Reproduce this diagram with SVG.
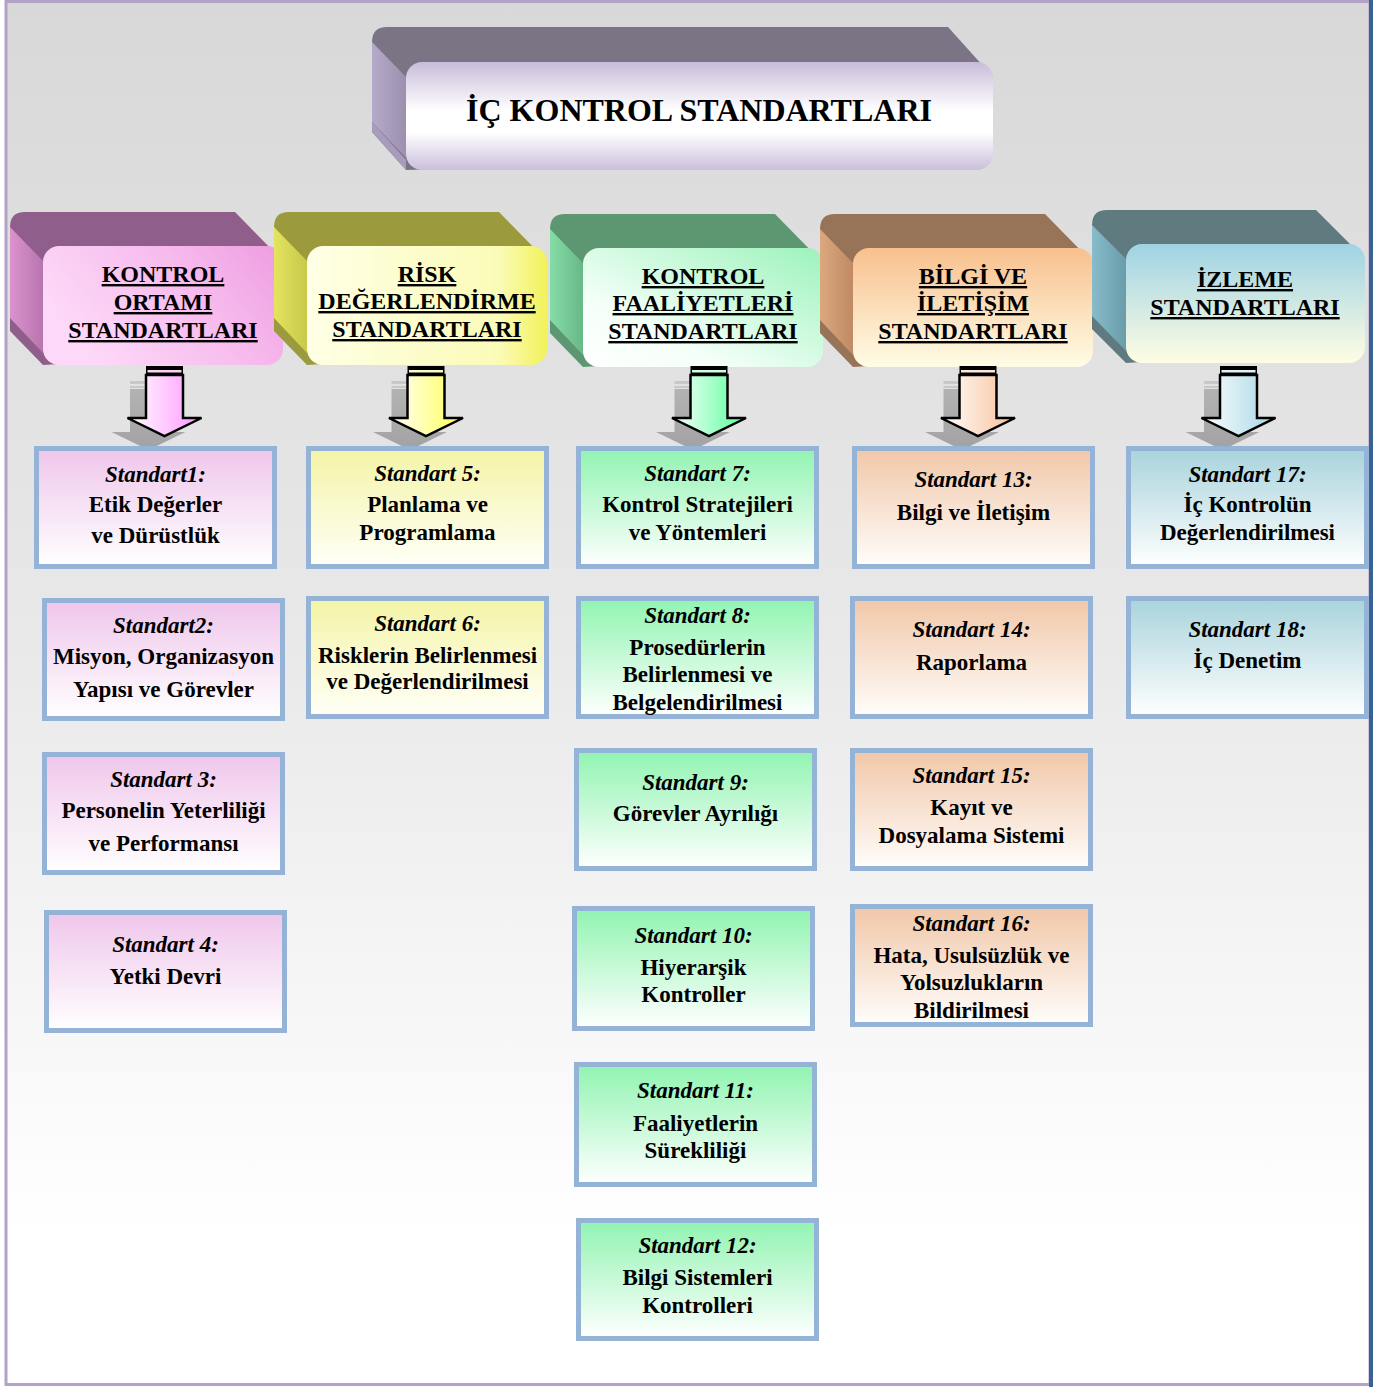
<svg xmlns="http://www.w3.org/2000/svg" width="1381" height="1387" viewBox="0 0 1381 1387">
<defs>
<linearGradient id="bg" x1="0" y1="0" x2="0" y2="1300" gradientUnits="userSpaceOnUse">
<stop offset="0" stop-color="#d8d8d8"/><stop offset="0.5" stop-color="#e9e9e9"/><stop offset="0.95" stop-color="#ffffff"/>
</linearGradient>
<linearGradient id="gT" x1="0" y1="0" x2="0" y2="1"><stop offset="0" stop-color="#c9bcda"/><stop offset="0.45" stop-color="#ffffff"/><stop offset="0.65" stop-color="#ffffff"/><stop offset="1" stop-color="#cbbfdb"/></linearGradient>
<linearGradient id="gTL" x1="0" y1="0" x2="1" y2="0"><stop offset="0" stop-color="#b6aaca"/><stop offset="1" stop-color="#9c90ae"/></linearGradient>
<linearGradient id="gH1" x1="0" y1="0.4" x2="1" y2="0"><stop offset="0" stop-color="#fdd8f8"/><stop offset="0.6" stop-color="#f6b8ec"/><stop offset="1" stop-color="#ee9ce0"/></linearGradient>
<linearGradient id="gH1L" x1="0" y1="0" x2="1" y2="0"><stop offset="0" stop-color="#dc92ce"/><stop offset="1" stop-color="#b875ad"/></linearGradient>
<linearGradient id="gH2" x1="0" y1="0" x2="1" y2="0"><stop offset="0" stop-color="#ffffe6"/><stop offset="0.8" stop-color="#fbfbb8"/><stop offset="1" stop-color="#f2f25a"/></linearGradient>
<linearGradient id="gH2L" x1="0" y1="0" x2="1" y2="0"><stop offset="0" stop-color="#e4e460"/><stop offset="1" stop-color="#c8c84a"/></linearGradient>
<linearGradient id="gH3" x1="0" y1="1" x2="1" y2="0"><stop offset="0" stop-color="#ffffff"/><stop offset="0.3" stop-color="#f4fff8"/><stop offset="1" stop-color="#9cf3bb"/></linearGradient>
<linearGradient id="gH3L" x1="0" y1="0" x2="1" y2="0"><stop offset="0" stop-color="#86dca6"/><stop offset="1" stop-color="#68b888"/></linearGradient>
<linearGradient id="gH4" x1="0" y1="0" x2="0" y2="1"><stop offset="0" stop-color="#f8c08e"/><stop offset="1" stop-color="#fffde6"/></linearGradient>
<linearGradient id="gH4L" x1="0" y1="0" x2="1" y2="0"><stop offset="0" stop-color="#dba87e"/><stop offset="1" stop-color="#c08a64"/></linearGradient>
<linearGradient id="gH5" x1="0" y1="0" x2="0" y2="1"><stop offset="0" stop-color="#9fd3e3"/><stop offset="1" stop-color="#fffde4"/></linearGradient>
<linearGradient id="gH5L" x1="0" y1="0" x2="1" y2="0"><stop offset="0" stop-color="#88bccb"/><stop offset="1" stop-color="#6a9caa"/></linearGradient>
<linearGradient id="b1" x1="0" y1="0" x2="0" y2="1"><stop offset="0" stop-color="#efc6eb"/><stop offset="1" stop-color="#ffffff"/></linearGradient>
<linearGradient id="b2" x1="0" y1="0" x2="0" y2="1"><stop offset="0" stop-color="#f4f4a6"/><stop offset="1" stop-color="#fffff8"/></linearGradient>
<linearGradient id="b3" x1="0" y1="0" x2="0" y2="1"><stop offset="0" stop-color="#90f4b1"/><stop offset="1" stop-color="#ffffff"/></linearGradient>
<linearGradient id="b4" x1="0" y1="0" x2="0" y2="1"><stop offset="0" stop-color="#f1c7a8"/><stop offset="1" stop-color="#fffdfb"/></linearGradient>
<linearGradient id="b5" x1="0" y1="0" x2="0" y2="1"><stop offset="0" stop-color="#a8d3dc"/><stop offset="1" stop-color="#ffffff"/></linearGradient>
<linearGradient id="a1" x1="0" y1="0" x2="1" y2="0"><stop offset="0" stop-color="#ffffff"/><stop offset="1" stop-color="#ff96ff"/></linearGradient>
<linearGradient id="a2" x1="0" y1="0" x2="1" y2="0"><stop offset="0" stop-color="#ffffff"/><stop offset="1" stop-color="#ffff55"/></linearGradient>
<linearGradient id="a3" x1="0" y1="0" x2="1" y2="0"><stop offset="0" stop-color="#ffffff"/><stop offset="1" stop-color="#55ff99"/></linearGradient>
<linearGradient id="a4" x1="0" y1="0" x2="1" y2="0"><stop offset="0" stop-color="#ffffff"/><stop offset="1" stop-color="#f8c098"/></linearGradient>
<linearGradient id="a5" x1="0" y1="0" x2="1" y2="0"><stop offset="0" stop-color="#ffffff"/><stop offset="1" stop-color="#a6d6e6"/></linearGradient>
<linearGradient id="sh" x1="0" y1="0" x2="0" y2="1"><stop offset="0" stop-color="#8c8c8c" stop-opacity="0.55"/><stop offset="1" stop-color="#8c8c8c" stop-opacity="0.75"/></linearGradient>
<path id="arrow" d="M-18.5,375 L18.5,375 L18.5,418 L37,418 L0,436 L-37,418 L-18.5,418 Z"/>
<style>
.box{stroke:#95b3d7;stroke-width:5}
.t{font-family:"Liberation Serif","Times New Roman",serif;font-weight:bold;font-size:23px;text-anchor:middle;fill:#000}
.i{font-style:italic}
.h{font-family:"Liberation Serif","Times New Roman",serif;font-weight:bold;font-size:24px;text-anchor:middle;fill:#000;text-decoration:underline}
.title{font-family:"Liberation Serif","Times New Roman",serif;font-weight:bold;font-size:32px;text-anchor:middle;fill:#000}
.ar{stroke:#000;stroke-width:2.5;stroke-linejoin:miter}
</style>
</defs>

<rect x="0" y="0" width="1381" height="1387" fill="#ffffff"/>
<rect x="6" y="1.5" width="1364" height="1383" fill="url(#bg)" stroke="#b3a2c7" stroke-width="3"/>

<g id="title">
<path d="M372,42 Q372,27 387,27 L948,27 L993,77 L993,155 L406,170 L372,132 Z" fill="#7a7485"/>
<path d="M372,42 L406,77 L406,158 L372,122 Z" fill="url(#gTL)"/>
<path d="M372,122 L406,160 L406,170 L372,132 Z" fill="#a89cbc"/>
<rect x="406" y="62" width="587" height="108" rx="16" fill="url(#gT)"/>
<text class="title" x="699" y="121">İÇ KONTROL STANDARTLARI</text>
</g>

<g id="header1">
<path d="M10,227 Q10,212 25,212 L235,212 L283,261 L283,350 L43,365 L10,331 Z" fill="#905e8b"/>
<path d="M10,227 L43,261 L43,353 L10,318 Z" fill="url(#gH1L)"/>
<rect x="43" y="246" width="240" height="119" rx="16" fill="url(#gH1)"/>
<text class="h" x="163" y="282">KONTROL</text>
<text class="h" x="163" y="310">ORTAMI</text>
<text class="h" x="163" y="338">STANDARTLARI</text>
</g>
<g id="header2">
<path d="M274,227 Q274,212 289,212 L499,212 L547,261 L547,350 L307,365 L274,331 Z" fill="#9b9a3c"/>
<path d="M274,227 L307,261 L307,353 L274,318 Z" fill="url(#gH2L)"/>
<rect x="307" y="246" width="240" height="119" rx="16" fill="url(#gH2)"/>
<text class="h" x="427" y="282">RİSK</text>
<text class="h" x="427" y="309">DEĞERLENDİRME</text>
<text class="h" x="427" y="337">STANDARTLARI</text>
</g>
<g id="header3">
<path d="M550,229 Q550,214 565,214 L775,214 L823,263 L823,352 L583,367 L550,333 Z" fill="#5d9771"/>
<path d="M550,229 L583,263 L583,355 L550,320 Z" fill="url(#gH3L)"/>
<rect x="583" y="248" width="240" height="119" rx="16" fill="url(#gH3)"/>
<text class="h" x="703" y="284">KONTROL</text>
<text class="h" x="703" y="311">FAALİYETLERİ</text>
<text class="h" x="703" y="339">STANDARTLARI</text>
</g>
<g id="header4">
<path d="M820,229 Q820,214 835,214 L1045,214 L1093,263 L1093,352 L853,367 L820,333 Z" fill="#977358"/>
<path d="M820,229 L853,263 L853,355 L820,320 Z" fill="url(#gH4L)"/>
<rect x="853" y="248" width="240" height="119" rx="16" fill="url(#gH4)"/>
<text class="h" x="973" y="284">BİLGİ VE</text>
<text class="h" x="973" y="311">İLETİŞİM</text>
<text class="h" x="973" y="339">STANDARTLARI</text>
</g>
<g id="header5">
<path d="M1092,225 Q1092,210 1107,210 L1316,210 L1365,259 L1365,348 L1126,363 L1092,329 Z" fill="#5f7b7f"/>
<path d="M1092,225 L1126,259 L1126,351 L1092,316 Z" fill="url(#gH5L)"/>
<rect x="1126" y="244" width="239" height="119" rx="16" fill="url(#gH5)"/>
<text class="h" x="1245" y="287">İZLEME</text>
<text class="h" x="1245" y="315">STANDARTLARI</text>
</g>

<g id="connectors">
<g transform="translate(164.5,0)">
<use href="#arrow" transform="translate(-16,14)" fill="url(#sh)"/>
<rect x="-34.5" y="381" width="37" height="3" fill="#c8c8c8"/><rect x="-34.5" y="386" width="37" height="2" fill="#c8c8c8"/>
<use href="#arrow" class="ar" fill="url(#a1)"/>
<rect x="-18.5" y="366" width="37" height="9" fill="#000"/><rect x="-17" y="370" width="34" height="2.5" fill="#fbd2f6"/>
</g>
<g transform="translate(426,0)">
<use href="#arrow" transform="translate(-16,14)" fill="url(#sh)"/>
<rect x="-34.5" y="381" width="37" height="3" fill="#c8c8c8"/><rect x="-34.5" y="386" width="37" height="2" fill="#c8c8c8"/>
<use href="#arrow" class="ar" fill="url(#a2)"/>
<rect x="-18.5" y="366" width="37" height="9" fill="#000"/><rect x="-17" y="370" width="34" height="2.5" fill="#fbfbc8"/>
</g>
<g transform="translate(709,0)">
<use href="#arrow" transform="translate(-16,14)" fill="url(#sh)"/>
<rect x="-34.5" y="381" width="37" height="3" fill="#c8c8c8"/><rect x="-34.5" y="386" width="37" height="2" fill="#c8c8c8"/>
<use href="#arrow" class="ar" fill="url(#a3)"/>
<rect x="-18.5" y="366" width="37" height="9" fill="#000"/><rect x="-17" y="370" width="34" height="2.5" fill="#d0fde0"/>
</g>
<g transform="translate(978,0)">
<use href="#arrow" transform="translate(-16,14)" fill="url(#sh)"/>
<rect x="-34.5" y="381" width="37" height="3" fill="#c8c8c8"/><rect x="-34.5" y="386" width="37" height="2" fill="#c8c8c8"/>
<use href="#arrow" class="ar" fill="url(#a4)"/>
<rect x="-18.5" y="366" width="37" height="9" fill="#000"/><rect x="-17" y="370" width="34" height="2.5" fill="#fde6d4"/>
</g>
<g transform="translate(1238.5,0)">
<use href="#arrow" transform="translate(-16,14)" fill="url(#sh)"/>
<rect x="-34.5" y="381" width="37" height="3" fill="#c8c8c8"/><rect x="-34.5" y="386" width="37" height="2" fill="#c8c8c8"/>
<use href="#arrow" class="ar" fill="url(#a5)"/>
<rect x="-18.5" y="366" width="37" height="9" fill="#000"/><rect x="-17" y="370" width="34" height="2.5" fill="#dff0f6"/>
</g>
</g>

<g id="s1"><rect class="box" x="36.5" y="448.5" width="238" height="118" fill="url(#b1)"/>
<text class="t i" x="155.5" y="482">Standart1:</text><text class="t" x="155.5" y="512">Etik Değerler</text><text class="t" x="155.5" y="543">ve Dürüstlük</text></g>
<g id="s2"><rect class="box" x="44.5" y="600.5" width="238" height="118" fill="url(#b1)"/>
<text class="t i" x="163.5" y="633">Standart2:</text><text class="t" x="163.5" y="664">Misyon, Organizasyon</text><text class="t" x="163.5" y="697">Yapısı ve Görevler</text></g>
<g id="s3"><rect class="box" x="44.5" y="754.5" width="238" height="118" fill="url(#b1)"/>
<text class="t i" x="163.5" y="787">Standart 3:</text><text class="t" x="163.5" y="818">Personelin Yeterliliği</text><text class="t" x="163.5" y="851">ve Performansı</text></g>
<g id="s4"><rect class="box" x="46.5" y="912.5" width="238" height="118" fill="url(#b1)"/>
<text class="t i" x="165.5" y="952">Standart 4:</text><text class="t" x="165.5" y="984">Yetki Devri</text></g>

<g id="s5"><rect class="box" x="308.5" y="448.5" width="238" height="118" fill="url(#b2)"/>
<text class="t i" x="427.5" y="481">Standart 5:</text><text class="t" x="427.5" y="512">Planlama ve</text><text class="t" x="427.5" y="540">Programlama</text></g>
<g id="s6"><rect class="box" x="308.5" y="598.5" width="238" height="118" fill="url(#b2)"/>
<text class="t i" x="427.5" y="631">Standart 6:</text><text class="t" x="427.5" y="663">Risklerin Belirlenmesi</text><text class="t" x="427.5" y="689">ve Değerlendirilmesi</text></g>

<g id="s7"><rect class="box" x="578.5" y="448.5" width="238" height="118" fill="url(#b3)"/>
<text class="t i" x="697.5" y="481">Standart 7:</text><text class="t" x="697.5" y="512">Kontrol Stratejileri</text><text class="t" x="697.5" y="540">ve Yöntemleri</text></g>
<g id="s8"><rect class="box" x="578.5" y="598.5" width="238" height="118" fill="url(#b3)"/>
<text class="t i" x="697.5" y="623">Standart 8:</text><text class="t" x="697.5" y="655">Prosedürlerin</text><text class="t" x="697.5" y="682">Belirlenmesi ve</text><text class="t" x="697.5" y="710">Belgelendirilmesi</text></g>
<g id="s9"><rect class="box" x="576.5" y="750.5" width="238" height="118" fill="url(#b3)"/>
<text class="t i" x="695.5" y="790">Standart 9:</text><text class="t" x="695.5" y="821">Görevler Ayrılığı</text></g>
<g id="s10"><rect class="box" x="574.5" y="908.5" width="238" height="120" fill="url(#b3)"/>
<text class="t i" x="693.5" y="943">Standart 10:</text><text class="t" x="693.5" y="975">Hiyerarşik</text><text class="t" x="693.5" y="1002">Kontroller</text></g>
<g id="s11"><rect class="box" x="576.5" y="1064.5" width="238" height="120" fill="url(#b3)"/>
<text class="t i" x="695.5" y="1098">Standart 11:</text><text class="t" x="695.5" y="1131">Faaliyetlerin</text><text class="t" x="695.5" y="1158">Sürekliliği</text></g>
<g id="s12"><rect class="box" x="578.5" y="1220.5" width="238" height="118" fill="url(#b3)"/>
<text class="t i" x="697.5" y="1253">Standart 12:</text><text class="t" x="697.5" y="1285">Bilgi Sistemleri</text><text class="t" x="697.5" y="1313">Kontrolleri</text></g>

<g id="s13"><rect class="box" x="854.5" y="448.5" width="238" height="118" fill="url(#b4)"/>
<text class="t i" x="973.5" y="487">Standart 13:</text><text class="t" x="973.5" y="520">Bilgi ve İletişim</text></g>
<g id="s14"><rect class="box" x="852.5" y="598.5" width="238" height="118" fill="url(#b4)"/>
<text class="t i" x="971.5" y="637">Standart 14:</text><text class="t" x="971.5" y="670">Raporlama</text></g>
<g id="s15"><rect class="box" x="852.5" y="750.5" width="238" height="118" fill="url(#b4)"/>
<text class="t i" x="971.5" y="783">Standart 15:</text><text class="t" x="971.5" y="815">Kayıt ve</text><text class="t" x="971.5" y="843">Dosyalama Sistemi</text></g>
<g id="s16"><rect class="box" x="852.5" y="906.5" width="238" height="118" fill="url(#b4)"/>
<text class="t i" x="971.5" y="931">Standart 16:</text><text class="t" x="971.5" y="963">Hata, Usulsüzlük ve</text><text class="t" x="971.5" y="990">Yolsuzlukların</text><text class="t" x="971.5" y="1018">Bildirilmesi</text></g>

<g id="s17"><rect class="box" x="1128.5" y="448.5" width="238" height="118" fill="url(#b5)"/>
<text class="t i" x="1247.5" y="482">Standart 17:</text><text class="t" x="1247.5" y="512">İç Kontrolün</text><text class="t" x="1247.5" y="540">Değerlendirilmesi</text></g>
<g id="s18"><rect class="box" x="1128.5" y="598.5" width="238" height="118" fill="url(#b5)"/>
<text class="t i" x="1247.5" y="637">Standart 18:</text><text class="t" x="1247.5" y="668">İç Denetim</text></g>

<line x1="1371" y1="0" x2="1371" y2="1387" stroke="#3a6194" stroke-width="4"/>
</svg>
